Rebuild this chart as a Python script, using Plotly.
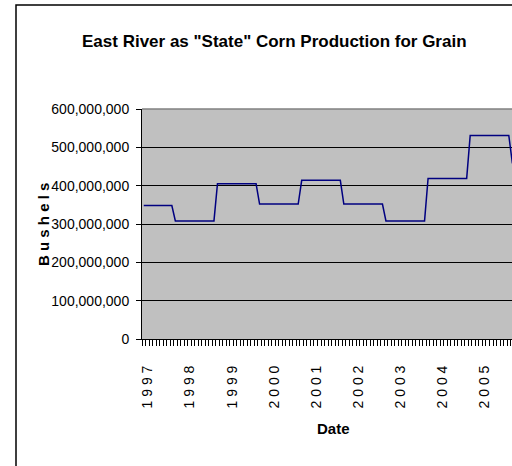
import plotly.graph_objects as go

# ---- data ----
years = ["1997", "1998", "1999", "2000", "2001", "2002", "2003", "2004", "2005", "2006"]
annual_bushels = [348e6, 308e6, 405e6, 352e6, 414e6, 352e6, 308e6, 419e6, 531e6, 460e6]
months_shown = [9, 12, 12, 12, 12, 12, 12, 12, 12, 3]
tick_years = ["1997", "1998", "1999", "2000", "2001", "2002", "2003", "2004", "2005"]
y_ticks = [0, 100e6, 200e6, 300e6, 400e6, 500e6, 600e6]

# monthly category series (each month carries its year's production figure)
values = []
for v, n in zip(annual_bushels, months_shown):
    values += [v] * n
cats = list(range(len(values)))

W, H = 512, 466
L, T, B = 142, 109, 127
R = 0
pw = W - L - R
ph = H - T - B
cat_px = 3.51
xmax = -0.5 + pw / cat_px

def px_x(x):
    return (x - L) / pw

def px_y(y):
    return (H - B - y) / ph

FONT = "Liberation Sans, Arial, sans-serif"

fig = go.Figure()
fig.add_trace(go.Scatter(x=cats, y=values, mode="lines",
                         line=dict(color="#000080", width=1.5),
                         hoverinfo="skip", showlegend=False))

tickpos = [i * 12 for i in range(len(tick_years))]
fig.update_xaxes(
    range=[-0.5, xmax], showgrid=False, zeroline=False,
    showline=True, linecolor="black", linewidth=1,
    tickmode="array", tickvals=tickpos,
    ticktext=[" ".join(list(y)) for y in tick_years],
    ticks="", tickangle=-90,
    tickfont=dict(family=FONT, size=14, color="black"),
    ticklabelstandoff=20, ticklabelshift=4,
    minor=dict(tickmode="array", tickvals=[i - 0.5 for i in range(len(values) + 1)],
               ticks="outside", ticklen=6, tickcolor="black", tickwidth=1, showgrid=False),
)
fig.update_yaxes(
    range=[0, 600e6], tickmode="array", tickvals=y_ticks,
    ticktext=[f"{int(v):,}" for v in y_ticks],
    showgrid=True, gridcolor="black", gridwidth=1,
    zeroline=False, showline=True, linecolor="black", linewidth=1,
    ticks="outside", ticklen=5, tickcolor="black",
    tickfont=dict(family=FONT, size=14, color="black"),
    ticklabelstandoff=4,
)

annotations = [
    dict(text='<b>East River as "State" Corn Production for Grain</b>',
         x=px_x(274), y=px_y(42), xref="paper", yref="paper",
         xanchor="center", yanchor="middle", showarrow=False,
         font=dict(family=FONT, size=17, color="black")),
    dict(text="<b>B u s h e l s</b>", x=px_x(43), y=px_y(225), xref="paper", yref="paper",
         xanchor="center", yanchor="middle", showarrow=False, textangle=-90,
         font=dict(family=FONT, size=15, color="black")),
    dict(text="<b>Date</b>", x=px_x(333), y=px_y(428), xref="paper", yref="paper",
         xanchor="center", yanchor="middle", showarrow=False,
         font=dict(family=FONT, size=15, color="black")),
]

shapes = [
    # outer chart frame
    dict(type="rect", xref="paper", yref="paper",
         x0=px_x(16), x1=px_x(W + 30), y0=px_y(H + 30), y1=px_y(5),
         line=dict(color="black", width=1.5), layer="above"),
    # plot-area top border (grey)
    dict(type="line", xref="paper", yref="paper", x0=0, x1=1, y0=1, y1=1,
         line=dict(color="#808080", width=1.5), layer="above"),
]

fig.update_layout(
    width=W, height=H, margin=dict(l=L, r=R, t=T, b=B, pad=0),
    paper_bgcolor="white", plot_bgcolor="#C0C0C0",
    annotations=annotations, shapes=shapes, showlegend=False,
)
fig.write_html("out.html", config={"displayModeBar": False},
               post_script="document.body.style.margin='0';document.body.style.overflow='hidden';")
